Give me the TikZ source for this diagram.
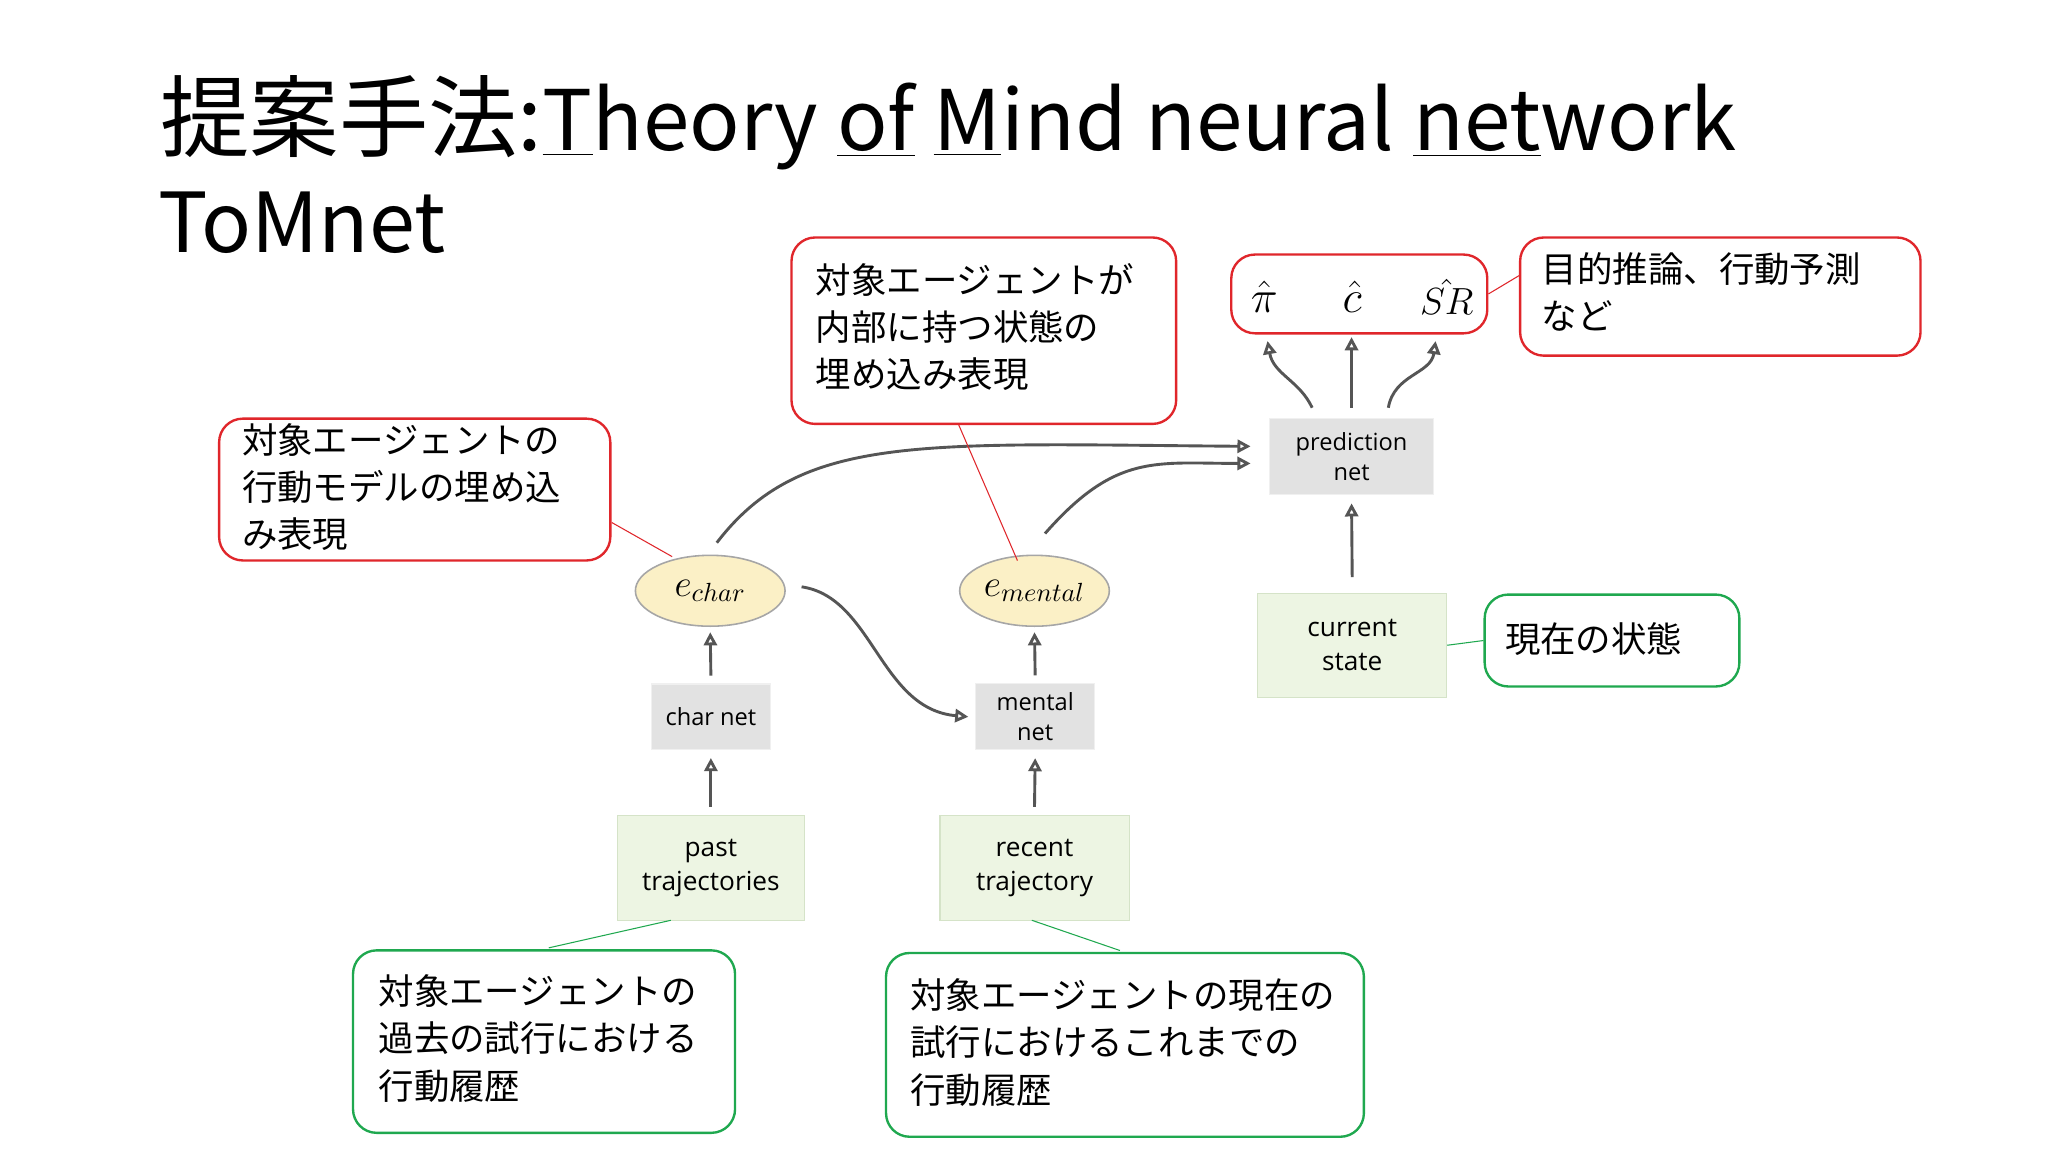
\documentclass[tikz,border=0pt]{standalone}
\usepackage{fontspec}
\setmainfont{Noto Sans CJK JP}
\newfontfamily\lab{Open Sans}
\usetikzlibrary{arrows.meta,shapes.geometric}
\definecolor{rb}{HTML}{E0262B}
\definecolor{gb}{HTML}{1FA84F}
\definecolor{gn}{HTML}{E2E2E2}
\definecolor{lg}{HTML}{EDF5E3}
\definecolor{lgb}{HTML}{D5E3C8}
\definecolor{ye}{HTML}{FBF0C6}
\definecolor{ar}{HTML}{555555}
\begin{document}
\begin{tikzpicture}[x=0.5pt,y=-0.5pt,
 jp/.style={font=\fontsize{13.5}{18}\selectfont, align=left, anchor=north west, inner sep=0},
 rbox/.style={draw=rb, line width=0.9pt, rounded corners=9pt},
 gbox/.style={draw=gb, line width=0.9pt, rounded corners=9pt},
 gray/.style={fill=gn, draw=gn!80!black!20, font=\lab\fontsize{9}{11.5}\selectfont, align=center},
 inp/.style={fill=lg, draw=lgb, font=\lab\fontsize{10}{13}\selectfont, align=center},
 emb/.style={ellipse, fill=ye, draw=gray!70, line width=0.6pt, minimum width=57pt, minimum height=27pt, inner sep=0, font=\fontsize{14}{14}\selectfont},
 arr/.style={draw=ar, line width=1.1pt, -{Triangle[open,length=5pt,width=5pt]}},
 rl/.style={draw=rb, line width=0.4pt},
 gl/.style={draw=gb, line width=0.4pt}]
\useasboundingbox (0,0) rectangle (1560,877.5);
\fill[white] (0,0) rectangle (1560,877.5);
% title
\node[anchor=base west, inner sep=0, font=\fontsize{34}{40}\selectfont] (title) at (122,115)
 {提案手法:{\fontsize{31.8}{40}\selectfont\underline{T}heory \underline{of} \underline{M}ind neural \underline{net}work}};
\node[anchor=base west, inner sep=0, font=\fontsize{31.5}{40}\selectfont] (tomnet) at (120,192) {ToMnet};
% red boxes
\node[rbox, minimum width=149pt, minimum height=54pt, anchor=north west] (r1) at (166,318) {};
\node[jp] at (184,322) {対象エージェントの\\行動モデルの埋め込\\み表現};
\node[rbox, minimum width=146.5pt, minimum height=71pt, anchor=north west] (r2) at (602,180) {};
\node[jp] at (621,200) {対象エージェントが\\内部に持つ状態の\\埋め込み表現};
\node[rbox, minimum width=97.5pt, minimum height=30pt, anchor=north west] (r3) at (937,193) {};
\node[font=\fontsize{16}{16}\selectfont] at (963,226) {$\hat\pi$};
\node[font=\fontsize{16}{16}\selectfont] at (1030,226) {$\hat c$};
\node[font=\fontsize{15}{15}\selectfont, inner sep=0] at (1102,226) {$\hat{SR}$};
\node[rbox, minimum width=152.5pt, minimum height=45pt, anchor=north west] (r4) at (1157,180) {};
\node[jp] at (1174,192) {目的推論、行動予測\\など};
% green boxes
\node[gbox, minimum width=97pt, minimum height=35pt, anchor=north west] (g1) at (1130,452) {};
\node[jp, anchor=west] at (1146,487) {現在の状態};
\node[gbox, minimum width=145.5pt, minimum height=69.5pt, anchor=north west] (g2) at (268,723) {};
\node[jp] at (288,742) {対象エージェントの\\過去の試行における\\行動履歴};
\node[gbox, minimum width=182pt, minimum height=70pt, anchor=north west] (g3) at (674,725) {};
\node[jp] at (693,745) {対象エージェントの現在の\\試行におけるこれまでの\\行動履歴};
% network nodes
\node[emb] (ec) at (541,450) {$e_{char}$};
\node[emb] (em) at (788,450) {$e_{mental}$};
\node[gray, minimum width=45.5pt, minimum height=25pt] (cn) at (541.5,546) {char net};
\node[gray, minimum width=45.5pt, minimum height=25pt] (mn) at (788.5,546) {mental\\net};
\node[inp, minimum width=71.5pt, minimum height=40pt] (pt) at (541.5,661) {past\\trajectories};
\node[inp, minimum width=72pt, minimum height=40pt] (rt) at (788,661) {recent\\trajectory};
\node[gray, minimum width=62.5pt, minimum height=29pt] (pn) at (1029.5,348) {prediction\\net};
\node[inp, minimum width=72pt, minimum height=39.5pt] (cs) at (1030,491.5) {current\\state};
% arrows
\draw[arr] ([yshift=3pt]pt.north) -- ([yshift=-3pt]cn.south);
\draw[arr] ([yshift=3pt]rt.north) -- ([yshift=-3pt]mn.south);
\draw[arr] ([yshift=3pt]cn.north) -- ([yshift=-2pt]ec.south);
\draw[arr] ([yshift=3pt]mn.north) -- ([yshift=-2pt]em.south);
\draw[arr] ([yshift=6pt]cs.north) -- ([yshift=-3pt]pn.south);
\draw[arr] ([xshift=2.5pt,yshift=4.5pt]ec.north) .. controls (610,330) and (700,338) .. ([xshift=-7pt,yshift=4pt]pn.west);
\draw[arr] ([xshift=4pt,yshift=8pt]em.north) .. controls (850,345) and (880,353) .. ([xshift=-7pt,yshift=-2.5pt]pn.west);
\draw[arr] ([xshift=6pt,yshift=1.5pt]ec.east) .. controls (665,455) and (670,540) .. ([xshift=-2.5pt]mn.west);
\draw[arr] ([xshift=-15pt,yshift=4pt]pn.north) .. controls (990,290) and (970,285) .. ([xshift=-32pt,yshift=-2.5pt]pn.north|-r3.south);
\draw[arr] ([yshift=4pt]pn.north) -- ([yshift=-1pt]pn.north|-r3.south);
\draw[arr] ([xshift=14pt,yshift=4pt]pn.north) .. controls (1062,285) and (1090,285) .. ([xshift=32pt,yshift=-2.5pt]pn.north|-r3.south);
% callout lines
\draw[rl] (466,398) -- (512,424);
\draw[rl] (730,323) -- (775,427);
\draw[rl] (r3.east) -- (1157,210);
\draw[gl] (511,701) -- (418,722);
\draw[gl] (786,701) -- (853,724);
\draw[gl] (cs.east) -- (g1.west);
\end{tikzpicture}
\end{document}
